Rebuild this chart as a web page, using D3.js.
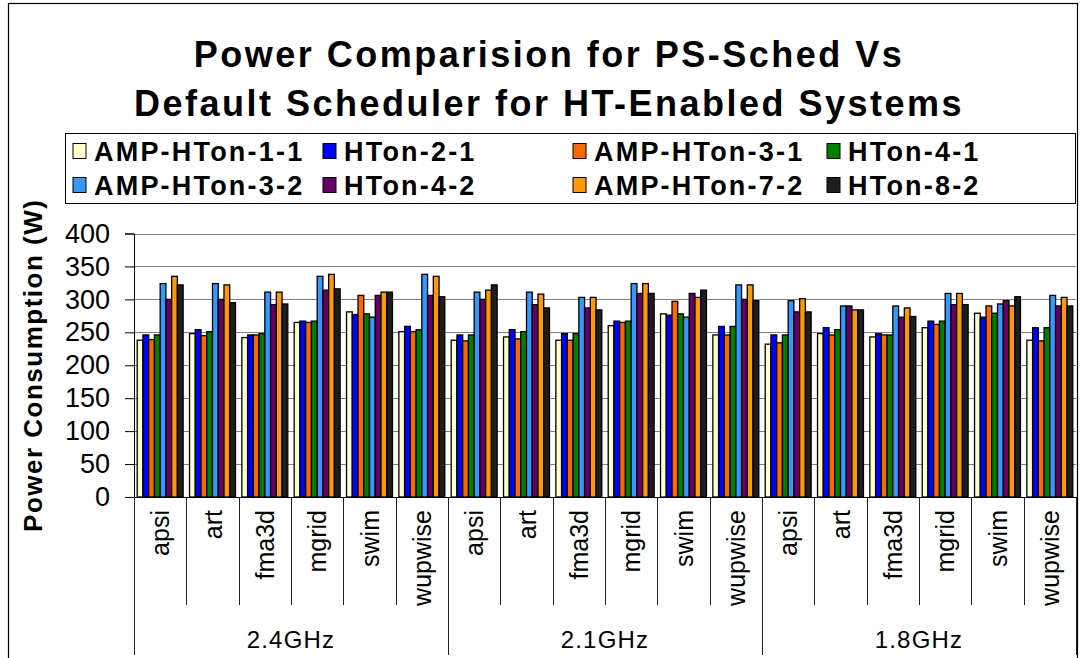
<!DOCTYPE html>
<html>
<head>
<meta charset="utf-8">
<script src="https://cdn.jsdelivr.net/npm/d3@7/dist/d3.min.js"></script>
<style>
  html, body { margin: 0; padding: 0; background: #fff; }
  svg { display: block; font-family: "Liberation Sans", Arial, sans-serif; }
</style>
</head>
<body>
<svg id="chart" width="1083" height="658"></svg>
<script>
// Benchmarks within each frequency group, and the frequency groups
const benchmarks = ["apsi", "art", "fma3d", "mgrid", "swim", "wupwise"];
const frequencies = ["2.4GHz", "2.1GHz", "1.8GHz"];

// Scheduler configurations (legend order)
const seriesNames = ["AMP-HTon-1-1", "HTon-2-1", "AMP-HTon-3-1", "HTon-4-1",
                     "AMP-HTon-3-2", "HTon-4-2", "AMP-HTon-7-2", "HTon-8-2"];
const seriesColors = ["#FFFFCC", "#0000FF", "#FF6600", "#008000",
                      "#3399FF", "#660066", "#FF9900", "#1E1E1E"];

// Power (W): 2.4GHz apsi..wupwise, 2.1GHz apsi..wupwise, 1.8GHz apsi..wupwise
const ampHTon_1_1 = [238, 248, 242, 265, 281, 251,  238, 243, 238, 260, 278, 246,  232, 248, 243, 257, 279, 238];
const hTon_2_1    = [246, 254, 246, 267, 277, 259,  246, 254, 248, 267, 276, 259,  246, 257, 248, 267, 273, 257];
const ampHTon_3_1 = [239, 245, 246, 265, 306, 251,  237, 240, 238, 265, 297, 246,  234, 246, 246, 262, 290, 237];
const hTon_4_1    = [246, 251, 248, 267, 278, 254,  246, 251, 248, 267, 278, 259,  246, 254, 246, 267, 279, 257];
const ampHTon_3_2 = [324, 324, 311, 335, 273, 338,  311, 311, 303, 324, 273, 322,  298, 290, 290, 309, 293, 306];
const hTon_4_2    = [300, 300, 292, 314, 306, 306,  300, 292, 287, 309, 309, 300,  281, 290, 273, 292, 298, 290];
const ampHTon_7_2 = [335, 322, 311, 338, 311, 335,  314, 308, 303, 324, 303, 322,  301, 284, 287, 309, 290, 303];
const hTon_8_2    = [322, 295, 293, 316, 311, 304,  322, 287, 284, 309, 314, 298,  281, 284, 274, 292, 304, 290];

const seriesValues = [ampHTon_1_1, hTon_2_1, ampHTon_3_1, hTon_4_1,
                      ampHTon_3_2, hTon_4_2, ampHTon_7_2, hTon_8_2];

const yTicks = [0, 50, 100, 150, 200, 250, 300, 350, 400];

// Flattened category list: one slot per (frequency, benchmark)
const slots = [];
frequencies.forEach((f, gi) => benchmarks.forEach((b, bi) => slots.push({ freq: f, bench: b, idx: gi * benchmarks.length + bi })));

const svg = d3.select("#chart");
const plot = { left: 134, right: 1076, top: 233.5, bottom: 497 };

// Outer chart border
svg.append("rect")
  .attr("x", 8.5).attr("y", 3.5)
  .attr("width", 1069).attr("height", 700)
  .attr("fill", "none").attr("stroke", "#000").attr("stroke-width", 1.2);

// Title
const title = svg.append("g").attr("font-weight", "bold").attr("font-size", 36)
  .attr("text-anchor", "middle").attr("fill", "#000").attr("letter-spacing", 2.5);
title.append("text").attr("x", 549).attr("y", 67).text("Power Comparision for PS-Sched Vs");
title.append("text").attr("x", 549).attr("y", 116).text("Default Scheduler for HT-Enabled Systems");

// Scales
const x0 = d3.scaleBand().domain(slots.map(d => d.idx)).range([plot.left, plot.right]).padding(0);
const x1 = d3.scaleBand().domain(d3.range(seriesNames.length))
  .range([3.2, x0.bandwidth() - 3.2]).padding(0);
const y = d3.scaleLinear().domain([0, 400]).range([plot.bottom, plot.top]);

// Gridlines
svg.append("g").selectAll("line").data(yTicks.filter(t => t > 0)).join("line")
  .attr("x1", plot.left).attr("x2", plot.right)
  .attr("y1", d => Math.round(y(d)) + 0.5).attr("y2", d => Math.round(y(d)) + 0.5)
  .attr("stroke", "#808080").attr("stroke-width", 1);

// Bars
const groups = svg.append("g").selectAll("g").data(slots).join("g")
  .attr("transform", d => `translate(${x0(d.idx)},0)`);
groups.selectAll("rect")
  .data(d => seriesValues.map((vals, si) => ({ si, v: vals[d.idx] })))
  .join("rect")
  .attr("x", d => x1(d.si))
  .attr("width", x1.bandwidth())
  .attr("y", d => y(d.v))
  .attr("height", d => y(0) - y(d.v))
  .attr("fill", d => seriesColors[d.si])
  .attr("stroke", "#000").attr("stroke-width", 1.3);

// Y axis
const yAxis = d3.axisLeft(y).tickValues(yTicks).tickSize(9).tickPadding(15);
const yg = svg.append("g").attr("transform", `translate(${plot.left},0)`).call(yAxis);
yg.select(".domain").attr("stroke", "#000");
yg.selectAll(".tick line").attr("stroke", "#000");
yg.selectAll(".tick text").attr("font-size", 27).attr("fill", "#000")
  .attr("font-family", "Liberation Sans, Arial, sans-serif");

// Y axis title
svg.append("text")
  .attr("transform", `translate(42,${(plot.top + plot.bottom) / 2}) rotate(-90)`)
  .attr("text-anchor", "middle").attr("font-weight", "bold").attr("font-size", 26)
  .attr("letter-spacing", 1.5).text("Power Consumption (W)");

// X axis baseline
svg.append("line").attr("x1", plot.left).attr("x2", plot.right)
  .attr("y1", plot.bottom + 0.5).attr("y2", plot.bottom + 0.5)
  .attr("stroke", "#000");

// Category separators (short) and group separators (long)
const sepX = d3.range(slots.length + 1).map(i => i < slots.length ? x0(i) : plot.right);
svg.append("g").selectAll("line").data(sepX.map((sx, i) => ({ sx, i }))).join("line")
  .attr("x1", d => Math.round(d.sx) + 0.5).attr("x2", d => Math.round(d.sx) + 0.5)
  .attr("y1", plot.bottom)
  .attr("y2", d => d.i % benchmarks.length === 0 ? 655 : 605)
  .attr("stroke", "#222");

// Benchmark labels (rotated)
svg.append("g").selectAll("text").data(slots).join("text")
  .attr("transform", d => `translate(${x0(d.idx) + x0.bandwidth() / 2 + 9},510) rotate(-90)`)
  .attr("text-anchor", "end").attr("font-size", 25).attr("fill", "#000")
  .text(d => d.bench);

// Frequency labels
svg.append("g").selectAll("text").data(frequencies).join("text")
  .attr("x", (d, i) => (x0(i * 6) + (i < 2 ? x0((i + 1) * 6) : plot.right)) / 2)
  .attr("y", 648).attr("text-anchor", "middle").attr("font-size", 24)
  .attr("letter-spacing", 1.2).text(d => d);

// Legend
const legend = svg.append("g");
legend.append("rect").attr("x", 65.5).attr("y", 133.5).attr("width", 1010).attr("height", 70)
  .attr("fill", "#fff").attr("stroke", "#000").attr("stroke-width", 1);
const colX = [73, 323, 573, 827];
const rowY = [151, 185];
const items = legend.selectAll("g.item").data(seriesNames).join("g").attr("class", "item")
  .attr("transform", (d, i) => `translate(${colX[i % 4]},${rowY[Math.floor(i / 4)]})`);
items.append("rect").attr("x", 0).attr("y", -7.5).attr("width", 13).attr("height", 15)
  .attr("fill", (d, i) => seriesColors[i]).attr("stroke", "#000").attr("stroke-width", 1);
items.append("text").attr("x", 21).attr("y", 10).attr("font-size", 27).attr("font-weight", "bold")
  .attr("letter-spacing", 2.2).text(d => d);
</script>
</body>
</html>
